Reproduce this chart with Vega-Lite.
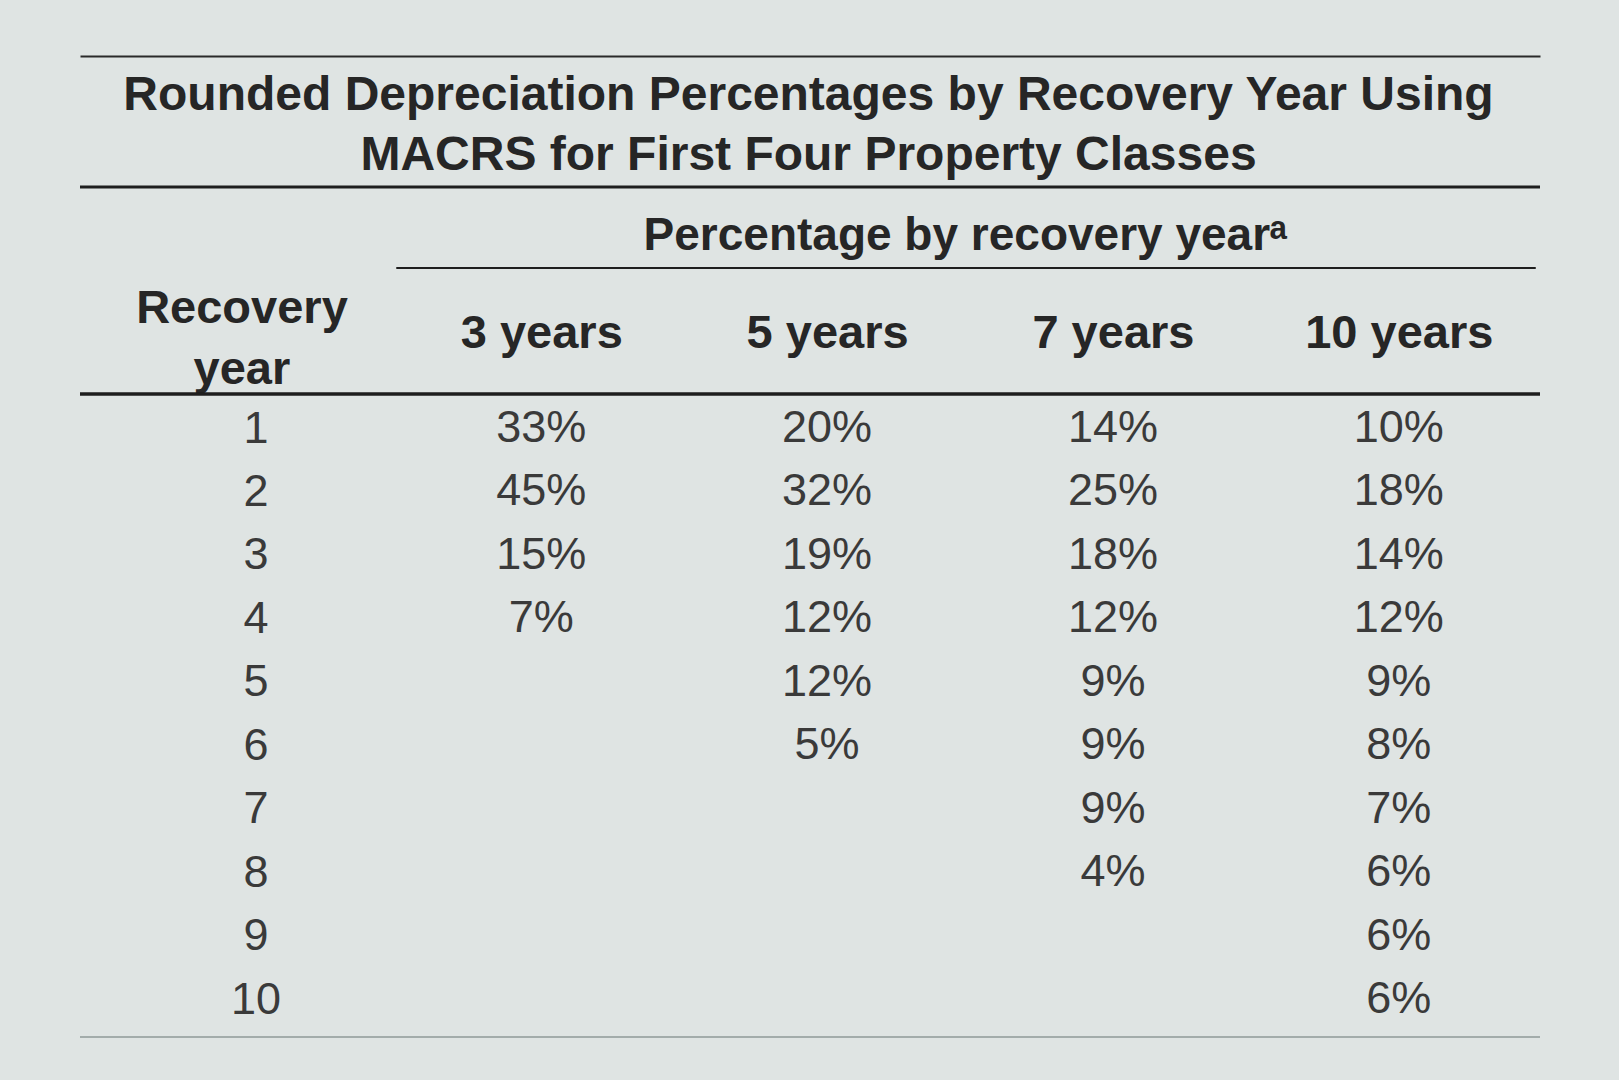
{
  "$schema": "https://vega.github.io/schema/vega-lite/v6.json",
  "width": 1460,
  "height": 981,
  "autosize": {"type": "none"},
  "padding": {"left": 80, "top": 56, "right": 79, "bottom": 43},
  "background": "#dfe4e3",
  "config": {"view": {"stroke": null}, "font": "Liberation Sans"},
  "data": {
    "values": [
      {"cls": "3 years", "year": 1, "pct": 0.33},
      {"cls": "3 years", "year": 2, "pct": 0.45},
      {"cls": "3 years", "year": 3, "pct": 0.15},
      {"cls": "3 years", "year": 4, "pct": 0.07},
      {"cls": "5 years", "year": 1, "pct": 0.20},
      {"cls": "5 years", "year": 2, "pct": 0.32},
      {"cls": "5 years", "year": 3, "pct": 0.19},
      {"cls": "5 years", "year": 4, "pct": 0.12},
      {"cls": "5 years", "year": 5, "pct": 0.12},
      {"cls": "5 years", "year": 6, "pct": 0.05},
      {"cls": "7 years", "year": 1, "pct": 0.14},
      {"cls": "7 years", "year": 2, "pct": 0.25},
      {"cls": "7 years", "year": 3, "pct": 0.18},
      {"cls": "7 years", "year": 4, "pct": 0.12},
      {"cls": "7 years", "year": 5, "pct": 0.09},
      {"cls": "7 years", "year": 6, "pct": 0.09},
      {"cls": "7 years", "year": 7, "pct": 0.09},
      {"cls": "7 years", "year": 8, "pct": 0.04},
      {"cls": "10 years", "year": 1, "pct": 0.10},
      {"cls": "10 years", "year": 2, "pct": 0.18},
      {"cls": "10 years", "year": 3, "pct": 0.14},
      {"cls": "10 years", "year": 4, "pct": 0.12},
      {"cls": "10 years", "year": 5, "pct": 0.09},
      {"cls": "10 years", "year": 6, "pct": 0.08},
      {"cls": "10 years", "year": 7, "pct": 0.07},
      {"cls": "10 years", "year": 8, "pct": 0.06},
      {"cls": "10 years", "year": 9, "pct": 0.06},
      {"cls": "10 years", "year": 10, "pct": 0.06}
    ]
  },
  "layer": [
    {
      "mark": {"type": "text", "fontSize": 45, "color": "#3a3a3a", "align": "center", "baseline": "middle", "font": "Liberation Sans"},
      "encoding": {
        "x": {
          "field": "cls",
          "type": "nominal",
          "scale": {"type": "point", "domain": ["Recovery year", "3 years", "5 years", "7 years", "10 years"], "padding": 0.554, "align": 0.554},
          "axis": {
            "orient": "top",
            "title": ["Rounded Depreciation Percentages by Recovery Year Using", "MACRS for First Four Property Classes"],
            "titleFont": "Liberation Sans",
            "titleFontSize": 48,
            "titleFontWeight": "bold",
            "titleColor": "#262626",
            "titleX": 728,
            "titleY": 39,
            "titleAlign": "center",
            "titleBaseline": "middle",
            "titleLineHeight": 60,
            "titleAngle": 0,
            "labelExpr": "datum.value == 'Recovery year' ? ['Recovery', 'year'] : datum.label",
            "labelFont": "Liberation Sans",
            "labelFontSize": 47,
            "labelFontWeight": "bold",
            "labelColor": "#262626",
            "labelPadding": {"condition": {"test": "datum.value == 'Recovery year'", "value": -252}, "value": -277},
            "labelOffset": {"condition": {"test": "datum.value == 'Recovery year'", "value": -14}, "value": 0},
            "labelBaseline": "middle",
            "labelLineHeight": 61,
            "labelAngle": 0,
            "labelLimit": 0,
            "labelOverlap": false,
            "labelBound": false,
            "ticks": false,
            "tickSize": 0,
            "domain": true,
            "domainColor": "#2a2a2a",
            "domainWidth": 2,
            "grid": false
          }
        },
        "y": {
          "field": "year",
          "type": "ordinal",
          "scale": {"type": "point", "domain": [1, 2, 3, 4, 5, 6, 7, 8, 9, 10], "range": [372, 943], "padding": 0},
          "axis": {
            "orient": "left",
            "title": "Percentage by recovery yearᵃ",
            "titleFont": "Liberation Sans",
            "titleAngle": 0,
            "titleX": 885,
            "titleY": 179,
            "titleAlign": "center",
            "titleBaseline": "middle",
            "titleFontSize": 46,
            "titleFontWeight": "bold",
            "titleColor": "#262626",
            "labelFont": "Liberation Sans",
            "labelFontSize": 45,
            "labelColor": "#3a3a3a",
            "labelAlign": "center",
            "labelBaseline": "middle",
            "labelPadding": -175.6,
            "labelOverlap": false,
            "ticks": false,
            "tickSize": 0,
            "domain": false,
            "grid": false
          }
        },
        "text": {"field": "pct", "type": "quantitative", "format": ".0%"}
      }
    },
    {
      "data": {"values": [{}]},
      "mark": {"type": "rule", "color": "#1e1e1e", "strokeWidth": 3, "yOffset": -241},
      "encoding": {"y": {"datum": 1, "type": "ordinal"}}
    },
    {
      "data": {"values": [{}]},
      "mark": {"type": "rule", "color": "#1e1e1e", "strokeWidth": 2, "yOffset": -160, "xOffset": -145, "x2Offset": 137},
      "encoding": {"y": {"datum": 1, "type": "ordinal"}, "x": {"datum": "3 years", "type": "nominal"}, "x2": {"datum": "10 years"}}
    },
    {
      "data": {"values": [{}]},
      "mark": {"type": "rule", "color": "#1e1e1e", "strokeWidth": 3.5, "yOffset": -34},
      "encoding": {"y": {"datum": 1, "type": "ordinal"}}
    },
    {
      "data": {"values": [{}]},
      "mark": {"type": "rule", "color": "#8f9a99", "strokeWidth": 1.5, "yOffset": 38},
      "encoding": {"y": {"datum": 10, "type": "ordinal"}}
    }
  ]
}
